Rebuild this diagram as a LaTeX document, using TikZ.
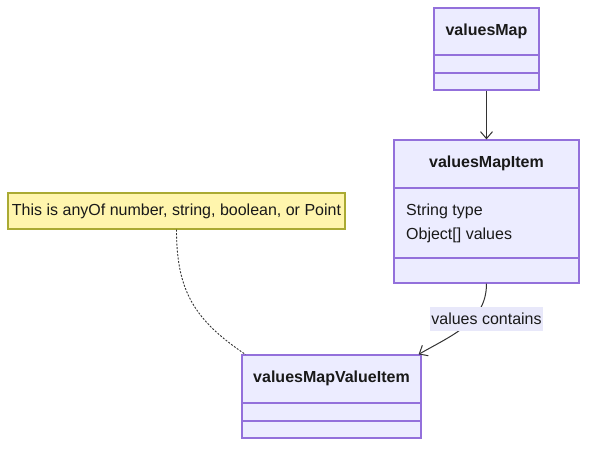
\documentclass[tikz,border=0pt]{standalone}
\usepackage{fontspec}
\setmainfont{Liberation Sans}
\definecolor{classfill}{HTML}{ECECFF}
\definecolor{classdraw}{HTML}{9370DB}
\definecolor{notefill}{HTML}{FFF5AD}
\definecolor{notedraw}{HTML}{AAAA33}
\definecolor{linkgray}{HTML}{333333}
\definecolor{labelfill}{HTML}{E8E8FA}
\usetikzlibrary{arrows.meta, positioning, calc}

\begin{document}
\begin{tikzpicture}[x=1pt, y=-1pt,
    classbox/.style={draw=classdraw, fill=classfill, line width=1.2pt, inner sep=0pt},
    classline/.style={draw=classdraw, line width=1.2pt},
    classtitle/.style={font=\fontsize{16}{19}\selectfont\bfseries, text=black!90, inner sep=0pt},
    attr/.style={font=\fontsize{16}{19}\selectfont, text=black!90, inner sep=0pt, anchor=west},
    notebox/.style={draw=notedraw, fill=notefill, line width=1.2pt, inner sep=0pt, font=\fontsize{16}{19}\selectfont, text=black!90},
    edgelabel/.style={fill=labelfill, inner xsep=1pt, inner ysep=0pt, minimum height=24, font=\fontsize{16}{19}\selectfont, text=black!90},
    link/.style={draw=linkgray, line width=1pt, -{Straight Barb[length=7pt,width=12pt]}},
    notelink/.style={draw=linkgray, line width=0.9pt, dash pattern=on 2pt off 1.5pt}]
  \useasboundingbox (0,0) rectangle (595,452);

  % valuesMap
  \node[classbox, minimum width=105, minimum height=82] (vm) at (486.5,49) {};
  \node[classtitle] (vmt) at (486.5,31) {valuesMap};
  \draw[classline] (vm.west |- 0,55) -- (vm.east |- 0,55);
  \draw[classline] (vm.west |- 0,73) -- (vm.east |- 0,73);

  % valuesMapItem
  \node[classbox, minimum width=185, minimum height=143] (vmi) at (486.5,211.5) {};
  \node[classtitle] (vmit) at (486.5,163) {valuesMapItem};
  \draw[classline] (vmi.west |- 0,188) -- (vmi.east |- 0,188);
  \draw[classline] (vmi.west |- 0,258) -- (vmi.east |- 0,258);
  \node[attr] (vmia) at (406,211) {String type};
  \node[attr] (vmib) at (406,235) {Object[] values};

  % valuesMapValueItem
  \node[classbox, minimum width=179, minimum height=83] (vmvi) at (331.5,396.5) {};
  \node[classtitle] (vmvit) at (331.5,378) {valuesMapValueItem};
  \draw[classline] (vmvi.west |- 0,403) -- (vmvi.east |- 0,403);
  \draw[classline] (vmvi.west |- 0,421) -- (vmvi.east |- 0,421);

  % note
  \node[notebox, minimum width=337, minimum height=36] (note) at (176.5,211) {This is anyOf number, string, boolean, or Point};

  % links
  \draw[link] (vm.south) -- (vmi.north);
  \draw[link] (vmi.south) to[out=-90, in=30] ($(vmvi.north east)+(-3,0)$);
  \node[edgelabel] (lbl) at (486.5,319) {values contains};
  \draw[notelink] (note.south) to[out=-90, in=146, looseness=1.1] ($(vmvi.north west)+(4,0)$);
\end{tikzpicture}
\end{document}
